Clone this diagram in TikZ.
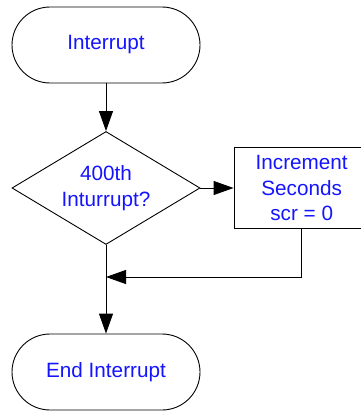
\documentclass[tikz,border=0pt]{standalone}
\usepackage{fontspec}
\setmainfont{Liberation Sans}
\usetikzlibrary{arrows.meta,shapes.geometric}
\definecolor{txtblue}{RGB}{20,20,255}
\begin{document}
\begin{tikzpicture}[x=1pt,y=-1pt,
  base/.style={draw, line width=0.9pt, text=txtblue, inner sep=0pt,
    font=\fontsize{20.7}{25.5}\selectfont, align=center},
  term/.style={base, rectangle, rounded corners=38pt, minimum width=188pt, minimum height=76pt},
  decide/.style={base, diamond, aspect=1.65, minimum width=188pt, minimum height=113pt},
  procbox/.style={base, rectangle, minimum width=135.4pt, minimum height=81.5pt},
  flow/.style={draw, line width=0.9pt, -{Triangle[length=20pt,width=14pt]}},
  wire/.style={draw, line width=0.9pt}]
\useasboundingbox (0,0) rectangle (361,412);
\node[term] (start) at (106,45) {Interrupt};
\node[decide] (q) at (106,188) {400th\\Inturrupt?};
\node[procbox] (inc) at (301.7,188) {Increment\\Seconds\\scr = 0};
\node[term] (end) at (106,372) {End Interrupt};
\coordinate (corner) at (301.7,277);
\coordinate (join) at (106,277);
\path[flow] (start) -- (q);
\path[flow] (q) -- (inc);
\path[wire] (inc.south) -- (corner);
\path[flow] (corner) -- (join);
\path[flow] (q.south) -- (end.north);
\end{tikzpicture}
\end{document}
